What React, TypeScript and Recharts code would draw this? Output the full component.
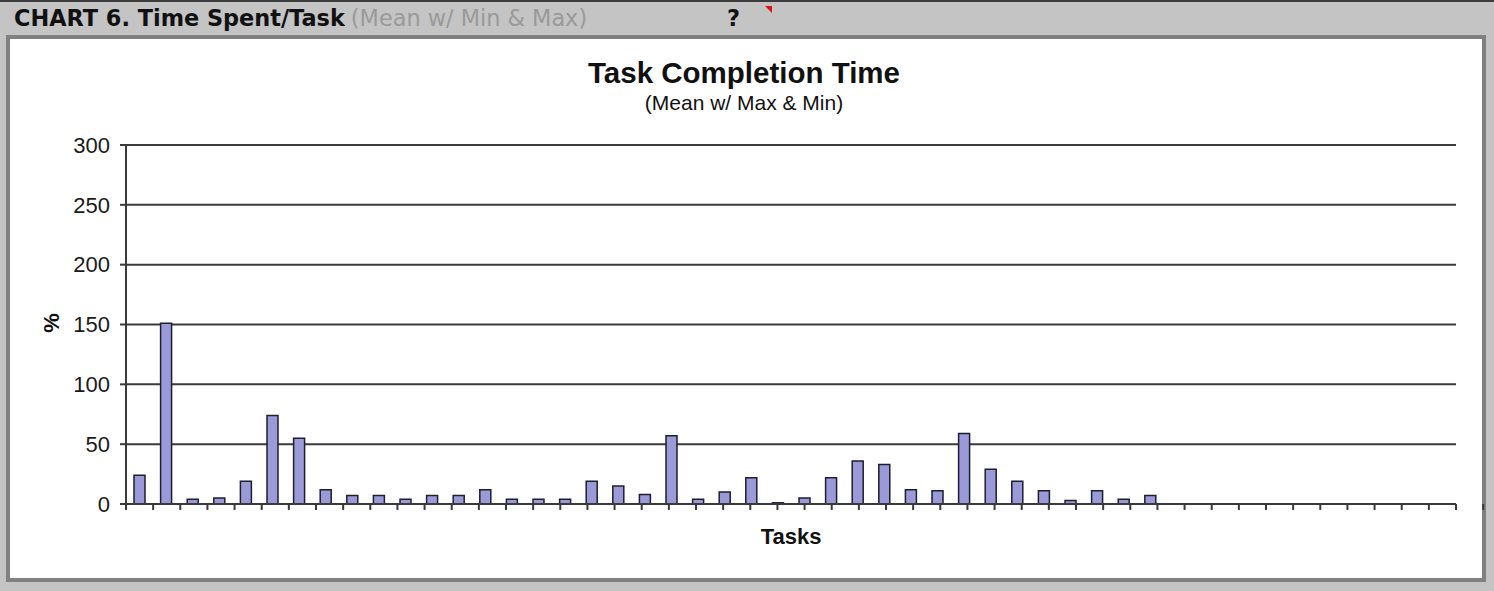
import React from 'react';
import { BarChart, Bar, XAxis, YAxis, CartesianGrid } from 'recharts';

// Mean completion time per task (%); the last 11 tasks have no bars
const meanTime = [
  24, 151, 4, 5, 19, 74, 55, 12, 7, 7,
  4, 7, 7, 12, 4, 4, 4, 19, 15, 8,
  57, 4, 10, 22, 1, 5, 22, 36, 33, 12,
  11, 59, 29, 19, 11, 3, 11, 4, 7, null,
  null, null, null, null, null, null, null, null, null, null,
];
const taskNames = meanTime.map((_, i) => `Task ${i + 1}`);
const yTicks = [0, 50, 100, 150, 200, 250, 300];
const boundaryTicks = taskNames.map((_, i) => i).concat([taskNames.length]);

const data = taskNames.map((task, i) => ({ task, mean: meanTime[i] }));

const W = 1494;
const H = 591;
const labelFont = '"Liberation Sans", Arial, sans-serif';
const headerFont = '"DejaVu Sans", Verdana, sans-serif';

const App = () => {
  return (
    <div style={{ position: 'absolute', left: 0, top: 0, width: W, height: H, background: '#c4c4c4', overflow: 'hidden' }}>
      {/* top strip */}
      <div style={{ position: 'absolute', left: 0, top: 0, width: W, height: 2, background: '#3c3c3c' }} />

      {/* header */}
      <div style={{ position: 'absolute', left: 14, top: 5, fontFamily: headerFont, fontSize: 22.4, lineHeight: '26px', whiteSpace: 'nowrap' }}>
        <span style={{ fontWeight: 'bold', color: '#111' }}>CHART 6. Time Spent/Task</span>
        <span style={{ color: '#9a9a9a', marginLeft: 6 }}>(Mean w/ Min &amp; Max)</span>
      </div>
      <div style={{ position: 'absolute', left: 727, top: 5, fontFamily: headerFont, fontSize: 22.4, lineHeight: '26px', fontWeight: 'bold', color: '#111' }}>?</div>
      <div style={{ position: 'absolute', left: 765, top: 6, width: 0, height: 0, borderTop: '7px solid #e01010', borderLeft: '7px solid transparent' }} />

      {/* white panel */}
      <div style={{ position: 'absolute', left: 6, top: 35, width: 1472, height: 539, background: '#fff', border: '4px solid #808080' }} />

      {/* titles */}
      <div style={{ position: 'absolute', left: 0, width: 1488, top: 56, textAlign: 'center', fontFamily: labelFont, fontWeight: 'bold', fontSize: 29.5, lineHeight: '33px', color: '#111' }}>
        Task Completion Time
      </div>
      <div style={{ position: 'absolute', left: 0, width: 1488, top: 90, textAlign: 'center', fontFamily: labelFont, fontSize: 21, lineHeight: '25px', color: '#111' }}>
        (Mean w/ Max &amp; Min)
      </div>

      <div style={{ position: 'absolute', left: 0, top: 0 }}>
        <BarChart
          width={W}
          height={H}
          data={data}
          margin={{ top: 145, right: 38, bottom: 57, left: 0 }}
          barSize={11}
        >
          <CartesianGrid horizontal vertical={false} stroke="#3a3a3a" strokeWidth={2} />
          <XAxis xAxisId="cat" dataKey="task" hide />
          <XAxis
            xAxisId="bounds"
            type="number"
            domain={[0, taskNames.length]}
            ticks={boundaryTicks}
            interval={0}
            tickFormatter={() => ''}
            height={30}
            tickSize={6}
            axisLine={{ stroke: '#3a3a3a', strokeWidth: 2 }}
            tickLine={{ stroke: '#3a3a3a', strokeWidth: 2 }}
            allowDataOverflow
          />
          <YAxis
            width={126}
            domain={[0, 300]}
            ticks={yTicks}
            interval={0}
            tickSize={6}
            tickMargin={10}
            axisLine={{ stroke: '#3a3a3a', strokeWidth: 2 }}
            tickLine={{ stroke: '#3a3a3a', strokeWidth: 2 }}
            tick={{ fontFamily: labelFont, fontSize: 22, fill: '#1a1a1a' }}
          />
          <Bar
            xAxisId="cat"
            dataKey="mean"
            fill="#9a9ad8"
            stroke="#1e1e2e"
            strokeWidth={1.5}
            isAnimationActive={false}
          />
        </BarChart>
      </div>

      {/* axis titles */}
      <div style={{ position: 'absolute', left: 40, top: 311, width: 24, height: 24, transform: 'rotate(-90deg)', textAlign: 'center', fontFamily: labelFont, fontWeight: 'bold', fontSize: 22, lineHeight: '24px', color: '#111' }}>
        %
      </div>
      <div style={{ position: 'absolute', left: 741, width: 100, top: 524, textAlign: 'center', fontFamily: labelFont, fontWeight: 'bold', fontSize: 22, lineHeight: '26px', color: '#111' }}>
        Tasks
      </div>
    </div>
  );
};

export default App;
